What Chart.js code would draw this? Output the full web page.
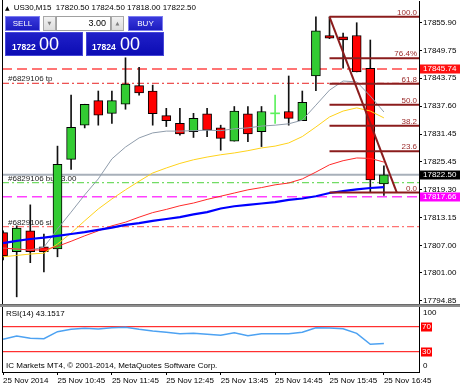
<!DOCTYPE html>
<html>
<head>
<meta charset="utf-8">
<script src="https://cdn.jsdelivr.net/npm/chart.js@4.4.0/dist/chart.umd.min.js"></script>
<style>
body{margin:0;width:460px;height:387px;background:#fff;position:relative;overflow:hidden;font-family:"Liberation Sans",Arial,sans-serif}
canvas{position:absolute;left:0}
#main{top:0}
#rsi{top:307px}
.sep{position:absolute;left:0;top:304px;width:460px;height:3px;background:#8e8e8e;border-top:1px solid #6a6a6a;box-sizing:border-box}
#title{position:absolute;left:5px;top:3px;font-size:8px;line-height:10px;color:#000;white-space:nowrap}
#title i{font-style:normal;font-size:6px;margin-right:4px;font-family:"DejaVu Sans"}
.btn{position:absolute;top:16px;height:15px;width:35px;background:linear-gradient(#3a3adc,#1c1cc0);border:1px solid #7c7cf0;box-sizing:border-box;color:#fff;font-size:8px;line-height:13px;text-align:center}
.spin{position:absolute;top:16px;height:15px;width:13px;background:linear-gradient(#f2f2f2,#dcdcdc);border:1px solid #a8a8a8;box-sizing:border-box;color:#808080;font-size:5px;line-height:13px;text-align:center;font-family:"DejaVu Sans"}
.inp{position:absolute;top:16px;left:56px;width:55px;height:15px;background:#fff;border:1px solid #a0a0a0;box-sizing:border-box;font-size:9px;line-height:13px;text-align:right;padding-right:4px;color:#000}
.px{position:absolute;top:32px;width:78px;height:24px;background:linear-gradient(#2020c8,#0c0cb4);border:1px solid #4646d8;box-sizing:border-box;color:#fff}
.px b{position:absolute;top:10px;font-size:8.5px;line-height:1;font-weight:bold}
.px span{position:absolute;top:2px;left:33px;font-size:18px;line-height:1}
</style>
</head>
<body>
<canvas id="main" width="460" height="304"></canvas>
<div class="sep"></div>
<canvas id="rsi" width="460" height="80"></canvas>
<div id="title"></div>
<div class="btn" style="left:5px">SELL</div>
<div class="spin" style="left:43px">▼</div>
<div class="inp">3.00</div>
<div class="spin" style="left:111px">▲</div>
<div class="btn" style="left:128px">BUY</div>
<div class="px" style="left:5px"><b style="left:6px">17822</b><span>00</span></div>
<div class="px" style="left:86px"><b style="left:5px">17824</b><span>00</span></div>
<script>
// US30 M15, bars from 09:45 to 16:45
const opens  = [17809.8,17805.6,17810.2,17806.7,17806.2,17825.9,17833.4,17838.8,17836.0,17838.0,17842.1,17840.9,17835.5,17833.8,17832.0,17835.9,17832.8,17829.9,17835.9,17832.0,17836.0,17836.4,17834.4,17844.2,17853.1,17852.8,17853.1,17845.9,17820.5];
const highs  = [17810.2,17811.3,17815.9,17809.5,17828.8,17840.0,17838.0,17840.9,17840.9,17848.2,17846.1,17842.2,17837.1,17837.1,17836.0,17837.1,17833.4,17837.5,17837.5,17837.5,17840.0,17844.2,17840.9,17857.2,17857.2,17853.6,17855.9,17852.1,17824.5];
const lows   = [17803.8,17795.7,17803.2,17801.2,17804.5,17823.7,17832.8,17833.4,17833.8,17836.9,17840.0,17833.4,17833.1,17831.2,17830.7,17830.9,17827.9,17829.9,17829.8,17828.7,17833.8,17833.4,17834.4,17841.0,17852.4,17845.9,17845.1,17818.6,17818.0];
const closes = [17804.7,17810.8,17805.6,17805.6,17824.8,17832.9,17838.0,17835.6,17838.8,17842.4,17840.5,17835.9,17834.4,17831.5,17834.9,17832.3,17830.5,17836.5,17831.5,17836.4,17836.0,17834.9,17838.4,17854.1,17852.5,17852.1,17845.1,17821.4,17822.5];

// moving averages
const maGray   = [17806.4,17806.2,17806.0,17806.6,17810.6,17814.3,17818.1,17821.6,17826.0,17828.6,17830.6,17831.7,17832.1,17832.1,17832.2,17832.3,17832.2,17832.6,17832.8,17833.2,17833.4,17833.7,17834.5,17837.8,17841.1,17843.1,17842.9,17839.8,17836.3];
const maYellow = [17804.5,17804.8,17805.1,17805.3,17807.3,17809.7,17812.4,17815.0,17817.2,17819.2,17821.1,17822.9,17824.0,17825.0,17825.8,17826.4,17826.9,17827.3,17827.8,17828.4,17828.8,17829.5,17830.9,17833.0,17835.2,17836.5,17837.2,17836.5,17835.0];
const maRed    = [17806.4,17806.2,17806.0,17806.0,17806.8,17807.9,17809.1,17810.2,17811.3,17812.1,17813.2,17814.2,17814.9,17815.7,17816.3,17817.1,17817.8,17818.5,17819.2,17819.7,17820.3,17820.7,17821.6,17823.1,17824.7,17825.6,17826.2,17826.1,17825.3];
const maBlue   = [17807.5,17808.0,17808.4,17808.7,17809.1,17809.5,17809.9,17810.4,17810.9,17811.5,17811.9,17812.4,17812.8,17813.2,17813.8,17814.3,17815.1,17815.6,17815.9,17816.2,17816.5,17817.0,17817.3,17817.8,17818.5,17818.9,17819.3,17819.6,17819.8];

const rsiValues = [49.8,55.1,51.4,50.8,62.0,65.8,67.4,66.3,68.4,69.0,65.8,63.1,61.0,58.8,59.4,57.8,56.2,60.4,55.6,58.8,58.8,58.8,61.0,68.4,67.9,66.8,59.4,41.8,43.15];
const rsiLevels = [70, 30];

const timeLabels = ['25 Nov 2014','25 Nov 10:45','25 Nov 11:45','25 Nov 12:45','25 Nov 13:45','25 Nov 14:45','25 Nov 15:45','25 Nov 16:45'];
const timeTickBars = [0, 4, 8, 12, 16, 20, 24, 28];
const priceTicks = [17855.90,17849.75,17843.75,17837.60,17831.45,17825.45,17819.30,17813.15,17807.00,17801.00,17794.85];

// fibonacci retracement
const fibNames  = ['100.0','76.4%','61.8','50.0','38.2','23.6','0.0'];
const fibPrices = [17857.2,17848.1,17842.5,17837.9,17833.3,17827.7,17818.6];
const fibBars   = [24, 28.95];

// horizontal lines
const upperLevel = 17845.74;
const lowerLevel = 17817.66;
const bidPrice   = 17822.50;
const tpPrice    = 17842.6;
const orderPrice = 17820.8;
const slPrice    = 17811.1;
const orderTags  = ['#6829106 tp', '#6829106 buy 3.00', '#6829106 sl'];

const X_MIN = -0.08, X_MAX = 30.58;
const Y_MIN = 17794.13, Y_MAX = 17860.67;
const FONT = '8px "Liberation Sans", Arial, sans-serif';
Chart.defaults.font.family = '"Liberation Sans", Arial, sans-serif';
Chart.defaults.font.size = 8;

document.getElementById('title').innerHTML = '<i>▲</i>US30,M15&nbsp; ' +
  [opens[28], highs[28], lows[28], closes[28]].map(v => v.toFixed(2)).join(' ');

const idx = closes.map((_, i) => i);
const isDoji = i => opens[i] === closes[i];
const pts = arr => arr.map((v, i) => ({x: i, y: v}));

const hline = (price, color, dash, width) => ({
  type: 'line', order: 50, data: [{x: X_MIN, y: price}, {x: X_MAX, y: price}],
  borderColor: color, borderWidth: width, borderDash: dash, pointRadius: 0
});
const maLine = (arr, color, width) => ({
  type: 'line', order: 20, data: pts(arr), borderColor: color, borderWidth: width, pointRadius: 0, tension: 0
});
const fibColor = '#8b1c1c';

const mainDeco = {
  id: 'mainDeco',
  beforeDatasetsDraw(chart) {
    const {ctx, chartArea: a, scales: {y}} = chart;
    ctx.save();
    ctx.font = FONT;
    ctx.fillStyle = '#1e1e1e';
    [tpPrice, orderPrice, slPrice].forEach((p, k) => ctx.fillText(orderTags[k], a.left + 6, y.getPixelForValue(p) - 2));
    ctx.restore();
  },
  afterDatasetsDraw(chart) {
    const {ctx, chartArea: a, scales: {y}} = chart;
    ctx.save();
    ctx.font = FONT;
    ctx.fillStyle = '#9a2a2a';
    ctx.textAlign = 'right';
    fibPrices.forEach((p, k) => ctx.fillText(fibNames[k], a.right - 2, y.getPixelForValue(p) - 2));
    ctx.restore();
  },
  afterDraw(chart) {
    const {ctx, chartArea: a, scales: {y}} = chart;
    ctx.save();
    ctx.strokeStyle = '#000';
    ctx.lineWidth = 1;
    ctx.beginPath();
    ctx.moveTo(a.left + 0.5, 0);
    ctx.lineTo(a.left + 0.5, a.bottom);
    ctx.stroke();
    ctx.font = FONT;
    ctx.textBaseline = 'middle';
    ctx.fillStyle = '#000';
    priceTicks.forEach(v => ctx.fillText(v.toFixed(2), a.right + 4, y.getPixelForValue(v)));
    [[upperLevel, '#ff1010'], [bidPrice, '#000'], [lowerLevel, '#ff00ff']].forEach(([p, c]) => {
      const py = Math.round(y.getPixelForValue(p));
      ctx.fillStyle = c;
      ctx.fillRect(a.right + 1, py - 4.5, 40, 9);
      ctx.fillStyle = '#fff';
      ctx.fillText(p.toFixed(2), a.right + 4, py);
    });
    ctx.restore();
  }
};

new Chart(document.getElementById('main'), {
  type: 'bar',
  data: {
    datasets: [
      {type: 'line', order: 10, data: [{x: fibBars[0], y: fibPrices[0]}, {x: fibBars[1], y: fibPrices[6]}],
       borderColor: fibColor, borderWidth: 2, pointRadius: 0},
      ...fibPrices.map(p => ({type: 'line', order: 10, data: [{x: fibBars[0], y: p}, {x: X_MAX, y: p}],
       borderColor: fibColor, borderWidth: 2, pointRadius: 0})),
      maLine(maBlue, '#0000ff', 2.2),
      maLine(maRed, '#ff2a2a', 1),
      maLine(maYellow, '#ffd21a', 1),
      maLine(maGray, '#8f9cab', 1),
      {
        type: 'bar', order: 30, grouped: false, barThickness: 9, clip: 0,
        data: idx.map(i => ({x: i, y: isDoji(i) ? [closes[i] - 0.11, closes[i] + 0.11] : [opens[i], closes[i]]})),
        backgroundColor: idx.map(i => isDoji(i) ? '#5ef05e' : closes[i] > opens[i] ? '#33cc33' : '#ff0000'),
        borderColor: '#000',
        borderWidth: idx.map(i => isDoji(i) ? 0 : 1),
        borderSkipped: false
      },
      {
        type: 'bar', order: 40, grouped: false, barThickness: 1, clip: 0,
        data: idx.map(i => ({x: i, y: [lows[i], highs[i]]})),
        backgroundColor: idx.map(i => isDoji(i) ? '#5ef05e' : '#111'),
        borderWidth: 0
      },
      hline(upperLevel, '#ff4848', [10, 5], 1.3),
      hline(tpPrice, '#e82424', [7, 3, 2, 3], 1),
      hline(bidPrice, '#a8b0ba', [], 2),
      hline(orderPrice, '#72dc64', [7, 3, 2, 3], 1.3),
      hline(lowerLevel, '#ff40ff', [10, 5], 1.5),
      hline(slPrice, '#ff7373', [7, 3, 2, 3], 1.3)
    ]
  },
  options: {
    responsive: false,
    animation: false,
    events: [],
    layout: {padding: {left: 2, top: 1, right: 0, bottom: 0}},
    plugins: {legend: {display: false}, tooltip: {enabled: false}},
    scales: {
      x: {type: 'linear', min: X_MIN, max: X_MAX, display: false, offset: false},
      y: {
        type: 'linear', position: 'right', min: Y_MIN, max: Y_MAX,
        afterBuildTicks: s => { s.ticks = priceTicks.map(v => ({value: v})); },
        afterFit: s => { s.width = 41; },
        ticks: {display: false},
        grid: {drawOnChartArea: false, tickLength: 3, color: '#000'},
        border: {display: true, color: '#000'}
      }
    }
  },
  plugins: [mainDeco]
});

const rsiDeco = {
  id: 'rsiDeco',
  afterDraw(chart) {
    const {ctx, chartArea: a, scales: {y}} = chart;
    ctx.save();
    ctx.strokeStyle = '#000';
    ctx.beginPath();
    ctx.moveTo(a.left + 0.5, a.top);
    ctx.lineTo(a.left + 0.5, a.bottom);
    ctx.stroke();
    ctx.font = FONT;
    ctx.textBaseline = 'middle';
    ctx.fillStyle = '#000';
    ctx.fillText('RSI(14) 43.1517', a.left + 4, a.top + 7);
    ctx.fillText('IC Markets MT4, © 2001-2014, MetaQuotes Software Corp.', a.left + 4, a.bottom - 6);
    ctx.fillText('100', a.right + 4, a.top + 6);
    ctx.fillText('0', a.right + 4, a.bottom - 6);
    rsiLevels.forEach(v => {
      const py = Math.round(y.getPixelForValue(v));
      ctx.fillStyle = '#ff0000';
      ctx.fillRect(a.right + 2, py - 4.5, 11, 9);
      ctx.fillStyle = '#fff';
      ctx.fillText(String(v), a.right + 3, py);
    });
    ctx.restore();
  }
};

new Chart(document.getElementById('rsi'), {
  type: 'line',
  data: {
    datasets: [
      {data: pts(rsiValues), borderColor: '#4da2f2', borderWidth: 1.5, pointRadius: 0, tension: 0},
      ...rsiLevels.map(v => ({data: [{x: X_MIN, y: v}, {x: X_MAX, y: v}], borderColor: '#ff0000', borderWidth: 1, pointRadius: 0}))
    ]
  },
  options: {
    responsive: false,
    animation: false,
    events: [],
    layout: {padding: {left: 2, top: 0, right: 0, bottom: 0}},
    plugins: {legend: {display: false}, tooltip: {enabled: false}},
    scales: {
      x: {
        type: 'linear', min: X_MIN, max: X_MAX, offset: false,
        afterBuildTicks: s => { s.ticks = timeTickBars.map(v => ({value: v})); },
        afterFit: s => { s.height = 15; },
        ticks: {autoSkip: false, maxRotation: 0, align: 'start', padding: 1, color: '#000',
                callback: (v, k) => timeLabels[k]},
        grid: {drawOnChartArea: false, tickLength: 3, color: '#000'},
        border: {display: true, color: '#000'}
      },
      y: {
        type: 'linear', position: 'right', min: -2.5, max: 101.5,
        afterFit: s => { s.width = 41; },
        ticks: {display: false},
        grid: {display: false},
        border: {display: true, color: '#000'}
      }
    }
  },
  plugins: [rsiDeco]
});
</script>
</body>
</html>
